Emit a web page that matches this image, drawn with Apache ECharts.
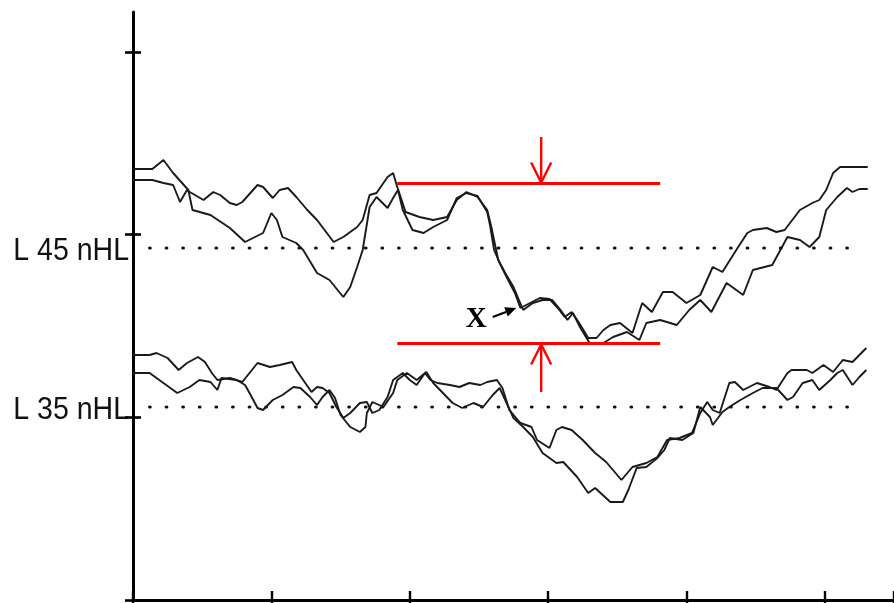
<!DOCTYPE html>
<html>
<head>
<meta charset="utf-8">
<script src="https://cdn.jsdelivr.net/npm/echarts/dist/echarts.min.js"></script>
<style>
  html, body { margin: 0; padding: 0; background: #fff; }
  #chart { width: 894px; height: 603px; }
</style>
</head>
<body>
<div id="chart"></div>
<script>
// Time in ms, amplitude in display units (baseline-relative offsets are built in).
const trace45a = [
  [0,431],[0.14,431],[0.22,440],[0.29,427],[0.40,410],[0.43,390],[0.56,385],[0.70,372],
  [0.81,358],[0.94,367],[1.00,387],[1.04,380],[1.08,363],[1.18,357],[1.23,350],[1.33,327],
  [1.42,320],[1.52,303],[1.57,313],[1.62,333],[1.66,350],[1.71,393],[1.76,403],[1.84,392],
  [1.88,402],[1.915,410],[1.95,390],[2.02,370],[2.10,367],[2.17,373],[2.27,380],[2.34,402],
  [2.41,407],[2.49,404],[2.56,388],[2.58,375],[2.61,350],[2.65,337],[2.70,323],[2.76,307],
  [2.80,292],[2.87,297],[2.94,302],[3.01,301],[3.07,292],[3.12,283],[3.17,288],[3.22,278],
  [3.29,262],[3.35,262],[3.40,270],[3.45,275],[3.52,277],[3.61,267],[3.68,297],[3.75,288],
  [3.83,308],[3.90,308],[4.00,297],[4.10,305],[4.19,333],[4.26,328],[4.36,350],[4.44,367],
  [4.48,370],[4.58,372],[4.65,368],[4.71,370],[4.82,390],[4.91,397],[4.96,400],[5.01,410],
  [5.06,427],[5.11,433],[5.31,433]
];
const trace45b = [
  [0,420],[0.14,420],[0.22,417],[0.29,415],[0.34,398],[0.39,410],[0.41,408],[0.51,400],
  [0.58,408],[0.63,405],[0.70,397],[0.75,395],[0.79,398],[0.90,415],[0.94,413],[1.01,402],
  [1.06,410],[1.12,412],[1.18,403],[1.26,390],[1.33,380],[1.45,358],[1.52,363],[1.62,373],
  [1.66,380],[1.71,405],[1.76,407],[1.84,423],[1.88,427],[1.91,413],[1.97,388],[2.07,383],
  [2.17,380],[2.27,383],[2.34,400],[2.41,408],[2.49,403],[2.56,390],[2.59,373],[2.62,353],
  [2.64,340],[2.69,327],[2.75,313],[2.82,290],[2.89,297],[2.96,300],[3.03,300],[3.09,290],
  [3.14,280],[3.18,287],[3.23,273],[3.30,257],[3.40,257],[3.47,263],[3.57,268],[3.66,260],
  [3.71,277],[3.81,280],[3.93,275],[4.02,290],[4.10,300],[4.18,288],[4.29,317],[4.41,305],
  [4.48,330],[4.62,335],[4.73,363],[4.82,360],[4.89,353],[4.96,363],[5.01,390],[5.09,403],
  [5.16,412],[5.20,408],[5.25,411],[5.31,411]
];
const trace35a = [
  [0,245],[0.12,245],[0.17,247],[0.25,242],[0.33,230],[0.39,237],[0.47,243],[0.52,238],
  [0.57,227],[0.61,220],[0.70,222],[0.79,218],[0.90,237],[0.99,233],[1.06,235],[1.15,238],
  [1.18,230],[1.23,220],[1.29,208],[1.33,213],[1.37,212],[1.42,207],[1.47,193],[1.52,182],
  [1.57,187],[1.64,197],[1.69,198],[1.73,187],[1.78,190],[1.84,203],[1.88,220],[1.95,227],
  [2.00,220],[2.05,215],[2.11,227],[2.15,220],[2.20,217],[2.29,215],[2.36,213],[2.43,217],
  [2.51,215],[2.56,218],[2.63,220],[2.67,212],[2.72,190],[2.80,177],[2.88,173],[2.92,160],
  [3.01,152],[3.06,170],[3.10,173],[3.17,170],[3.25,160],[3.34,147],[3.42,138],[3.53,120],
  [3.61,133],[3.71,137],[3.79,143],[3.86,160],[3.95,162],[4.04,167],[4.10,187],[4.15,198],
  [4.19,190],[4.24,187],[4.31,217],[4.35,218],[4.41,210],[4.51,217],[4.60,213],[4.65,210],
  [4.73,227],[4.76,230],[4.87,230],[4.91,227],[4.99,235],[5.06,228],[5.13,240],[5.20,238],
  [5.30,252]
];
const trace35b = [
  [0,227],[0.12,227],[0.22,217],[0.32,207],[0.41,213],[0.48,220],[0.56,218],[0.61,210],
  [0.64,222],[0.75,220],[0.81,215],[0.85,205],[0.90,192],[0.94,190],[1.01,200],[1.08,205],
  [1.16,213],[1.21,212],[1.28,203],[1.33,195],[1.37,203],[1.42,210],[1.46,202],[1.50,185],
  [1.57,173],[1.64,168],[1.68,173],[1.69,187],[1.73,198],[1.81,193],[1.88,207],[1.91,220],
  [1.98,227],[2.05,220],[2.12,228],[2.17,217],[2.24,207],[2.31,197],[2.38,192],[2.46,197],
  [2.53,193],[2.60,205],[2.65,212],[2.70,197],[2.75,182],[2.82,173],[2.89,163],[2.96,147],
  [3.06,137],[3.11,138],[3.21,123],[3.29,107],[3.34,112],[3.45,98],[3.54,98],[3.58,110],
  [3.64,132],[3.71,133],[3.79,142],[3.84,150],[3.88,162],[3.97,160],[4.05,167],[4.10,193],
  [4.17,183],[4.19,175],[4.26,188],[4.31,193],[4.39,200],[4.48,207],[4.55,212],[4.65,212],
  [4.73,200],[4.77,203],[4.84,217],[4.91,220],[4.96,210],[5.04,220],[5.09,227],[5.13,230],
  [5.20,215],[5.25,223],[5.30,230]
];

// Stimulus levels and their reference baselines
const levelLabels = ['L 45 nHL', 'L 35 nHL'];
const baselines = [352, 193];
const baselineSpan = [0.12, 5.19];

// Amplitude axis tick values
const amplitudeTicks = [0, 182.7, 365.4, 548.1];

// Amplitude measurement: peak / trough reference levels
const measureLevels = [416.5, 256.5];
const measureSpan = [1.91, 3.81];
// Arrows: [time, from, to]
const measureArrows = [[2.95, 463, 417.5], [2.95, 208, 255.5]];

// Wave marker "X"
const markerText = 'X';
const markerArrow = [[2.60, 283], [2.77, 292]];
const markerLabelAt = [2.48, 280];

const chart = echarts.init(document.getElementById('chart'), null, { renderer: 'canvas' });

const traceStyle = { color: '#1a1a1a', width: 1.9 };
function traceSeries(data) {
  return {
    type: 'line', data: data, showSymbol: false, symbol: 'none',
    lineStyle: traceStyle, silent: true, z: 3, animation: false
  };
}

const series = [
  traceSeries(trace45a),
  traceSeries(trace45b),
  traceSeries(trace35a),
  traceSeries(trace35b)
];

baselines.forEach(function (b) {
  series.push({
    type: 'line', symbol: 'none', silent: true, animation: false, z: 2,
    data: [[baselineSpan[0], b], [baselineSpan[1], b]],
    lineStyle: { color: '#111', width: 3.2, type: [0.6, 16.0], cap: 'round' }
  });
});

measureLevels.forEach(function (v) {
  series.push({
    type: 'line', symbol: 'none', silent: true, animation: false, z: 5,
    data: [[measureSpan[0], v], [measureSpan[1], v]],
    lineStyle: { color: '#ff0000', width: 3 }
  });
});

// Red open-headed arrows
series.push({
  type: 'custom', silent: true, animation: false, z: 6,
  data: measureArrows,
  renderItem: function (params, api) {
    const p0 = api.coord([api.value(0), api.value(1)]);
    const p1 = api.coord([api.value(0), api.value(2)]);
    const dir = p1[1] > p0[1] ? 1 : -1;
    const headL = 20, headW = 10;
    const st = { stroke: '#ff0000', lineWidth: 2.4, fill: null };
    return {
      type: 'group',
      children: [
        { type: 'line', shape: { x1: p0[0], y1: p0[1], x2: p1[0], y2: p1[1] }, style: st },
        { type: 'polyline', shape: { points: [
            [p1[0] - headW, p1[1] - dir * headL], [p1[0], p1[1]], [p1[0] + headW, p1[1] - dir * headL]
          ] }, style: st }
      ]
    };
  }
});

// Black pointer arrow with label
series.push({
  type: 'custom', silent: true, animation: false, z: 7,
  data: [[markerArrow[0][0], markerArrow[0][1], markerArrow[1][0], markerArrow[1][1]]],
  renderItem: function (params, api) {
    const a = api.coord([api.value(0), api.value(1)]);
    const b = api.coord([api.value(2), api.value(3)]);
    const dx = b[0] - a[0], dy = b[1] - a[1];
    const len = Math.sqrt(dx * dx + dy * dy);
    const ux = dx / len, uy = dy / len;
    const hl = 11, hw = 5;
    const bx = b[0] - ux * hl, by = b[1] - uy * hl;
    const lp = api.coord(markerLabelAt);
    return {
      type: 'group',
      children: [
        { type: 'line', shape: { x1: a[0], y1: a[1], x2: bx, y2: by },
          style: { stroke: '#000', lineWidth: 2.2 } },
        { type: 'polygon', shape: { points: [
            [b[0], b[1]], [bx - uy * hw, by + ux * hw], [bx + uy * hw, by - ux * hw]
          ] }, style: { fill: '#000' } },
        { type: 'text', x: lp[0], y: lp[1], style: {
            text: markerText, fill: '#000', align: 'center', verticalAlign: 'middle',
            font: 'bold 29px "Liberation Serif", "DejaVu Serif", serif'
          } }
      ]
    };
  }
});

const yBase = { type: 'value', min: 0, max: 588, interval: 182.7, splitLine: { show: false },
  axisLabel: { show: false } };

chart.setOption({
  animation: false,
  backgroundColor: '#ffffff',
  grid: { left: 133, right: 0, top: 12, bottom: 3, containLabel: false },
  xAxis: [
    { type: 'value', min: 0, max: 5.5, interval: 1, splitLine: { show: false },
      axisLabel: { show: false },
      axisLine: { show: true, onZero: false, lineStyle: { color: '#000', width: 3 } },
      axisTick: { show: true, inside: true, length: 9, lineStyle: { color: '#000', width: 2.4 } } },
    { type: 'value', min: 0, max: 5.5, interval: 1, position: 'bottom', splitLine: { show: false },
      axisLabel: { show: false }, axisLine: { show: false },
      axisTick: { show: true, inside: false, length: 5, lineStyle: { color: '#000', width: 2.4 } } }
  ],
  yAxis: [
    Object.assign({}, yBase, {
      axisLine: { show: true, onZero: false, lineStyle: { color: '#000', width: 3 } },
      axisTick: { show: true, inside: true, length: 8, customValues: amplitudeTicks,
        lineStyle: { color: '#000', width: 2.6 } }
    }),
    Object.assign({}, yBase, { position: 'left',
      axisLine: { show: false },
      axisTick: { show: true, inside: false, length: 8, customValues: amplitudeTicks,
        lineStyle: { color: '#000', width: 2.6 } }
    })
  ],
  series: series
});

// Level labels at the left of the axis, aligned to each baseline
const labelGraphics = levelLabels.map(function (txt, i) {
  const py = chart.convertToPixel({ yAxisIndex: 0 }, baselines[i]);
  return {
    type: 'text', x: 129, y: py + 3, scaleX: 0.92, scaleY: 1, silent: true,
    style: {
      text: txt, fill: '#111', align: 'right', verticalAlign: 'middle',
      font: '31px "Liberation Sans", Arial, sans-serif'
    }
  };
});
chart.setOption({ graphic: labelGraphics });
</script>
</body>
</html>
